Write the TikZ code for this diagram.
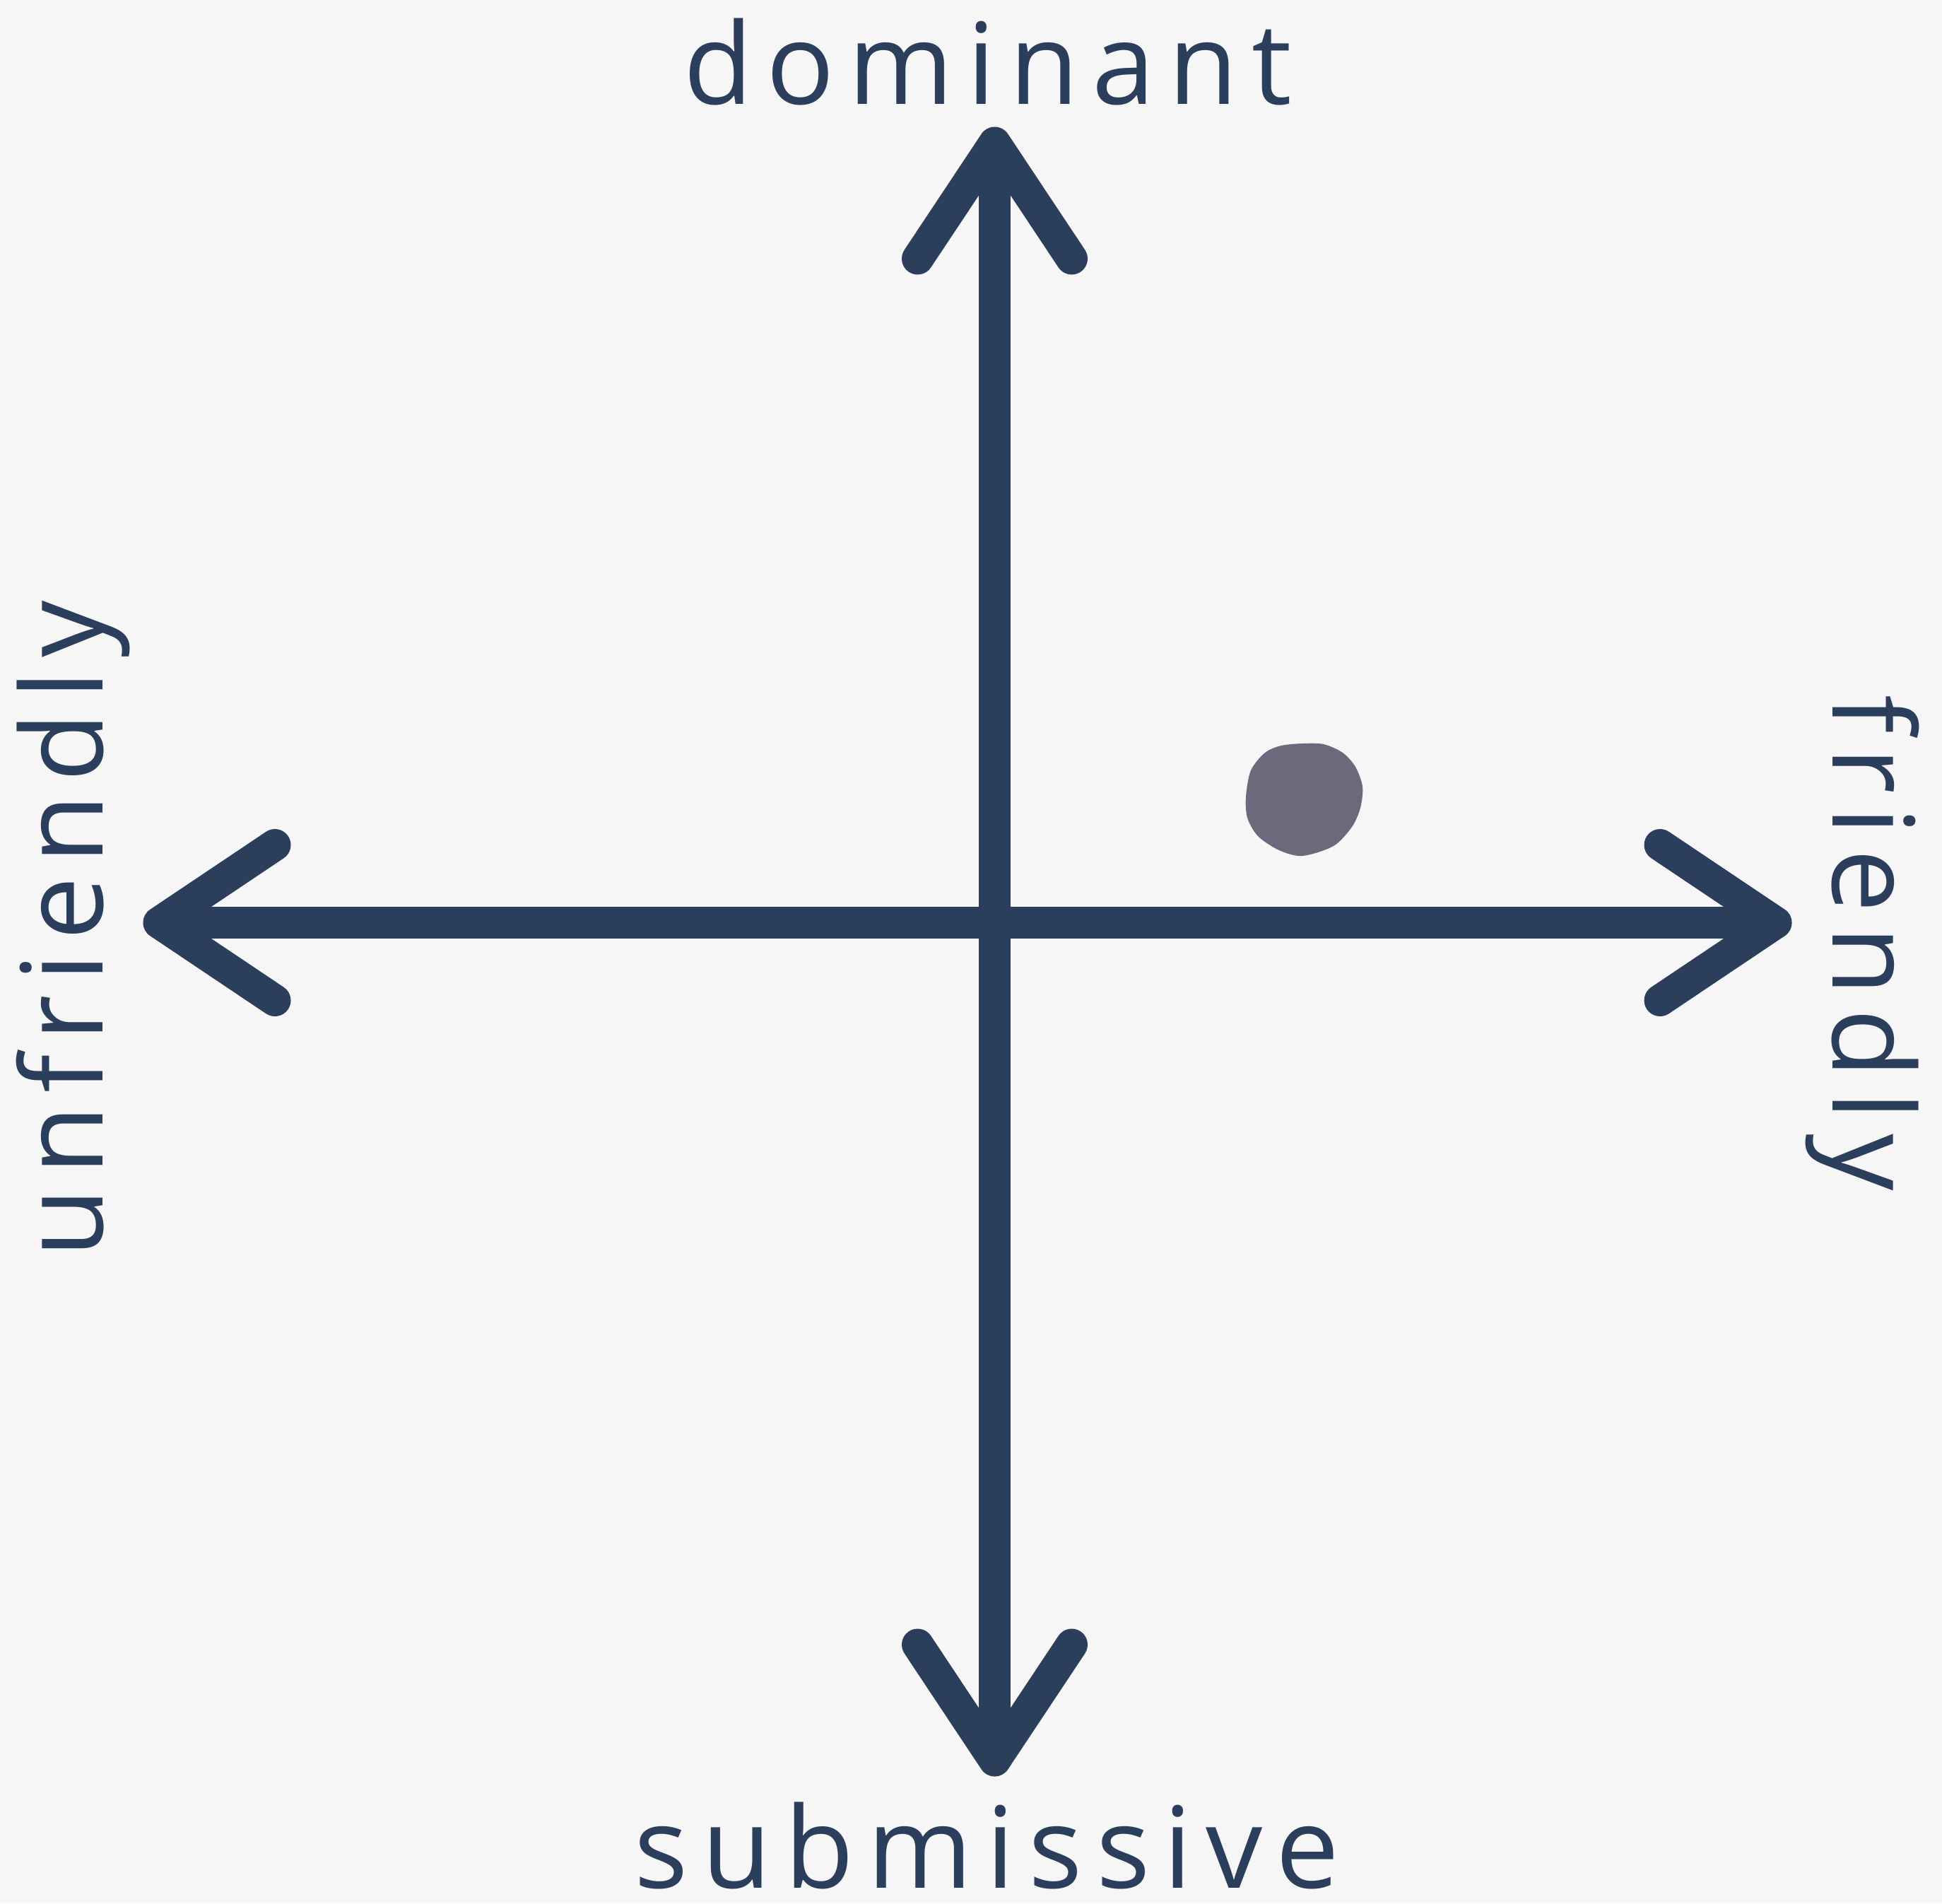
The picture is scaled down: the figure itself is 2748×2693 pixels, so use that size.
\documentclass[tikz,border=0pt]{standalone}
\usepackage{fontspec}
\setmainfont{Open Sans}
\newfontfamily\labfont[LetterSpace=12]{Open Sans}
\newfontfamily\labfontb[LetterSpace=11.5]{Open Sans}
\usetikzlibrary{calc}
\definecolor{bgc}{HTML}{F6F6F6}
\definecolor{axisc}{HTML}{2B3F5D}
\definecolor{dotc}{HTML}{6B6A7C}
\begin{document}
\begin{tikzpicture}[x=0.01cm,y=-0.01cm,
  axisline/.style={draw=axisc,line width=0.45cm},
  chevron/.style={draw=axisc,line width=0.45cm,line cap=round,line join=round},
  lab/.style={text=axisc,inner sep=0pt,font=\labfont\fontsize{45.5pt}{50pt}\selectfont},
  labb/.style={text=axisc,inner sep=0pt,font=\labfontb\fontsize{45.5pt}{50pt}\selectfont}]
\fill[bgc] (0,0) rectangle (2748,2693);
\useasboundingbox (0,0) rectangle (2748,2693);
% axis end points
\coordinate (top) at (1407.5,202);
\coordinate (bottom) at (1407.5,2491);
\coordinate (left) at (225,1305.5);
\coordinate (right) at (2513,1305.5);
% shafts
\draw[axisline] (top) -- (bottom);
\draw[axisline] (left) -- (right);
% arrowheads
\draw[chevron] ($(top)+(-109,164)$) -- (top) -- ($(top)+(109,164)$);
\draw[chevron] ($(bottom)+(-109,-164)$) -- (bottom) -- ($(bottom)+(109,-164)$);
\draw[chevron] ($(left)+(164,-110)$) -- (left) -- ($(left)+(164,110)$);
\draw[chevron] ($(right)+(-164,-110)$) -- (right) -- ($(right)+(-164,110)$);
% labels
\node[lab,anchor=base west] (dom) at (967,147) {dominant};
\node[lab,anchor=base west] (sub) at (897,2671) {submissive};
\node[labb,anchor=base west,rotate=90] (unf) at (145,1780) {unfriendly};
\node[lab,anchor=base west,rotate=-90] (fri) at (2593,983) {friendly};
% dot
\fill[dotc] plot[smooth cycle,tension=0.5] coordinates {
  (1843,1052) (1873,1053) (1900,1065) (1918,1085) (1928,1113) (1925,1143)
  (1913,1170) (1887,1197) (1843,1211) (1810,1203) (1780,1183) (1765,1157)
  (1763,1127) (1770,1090) (1790,1065) (1813,1055)};
\end{tikzpicture}
\end{document}
